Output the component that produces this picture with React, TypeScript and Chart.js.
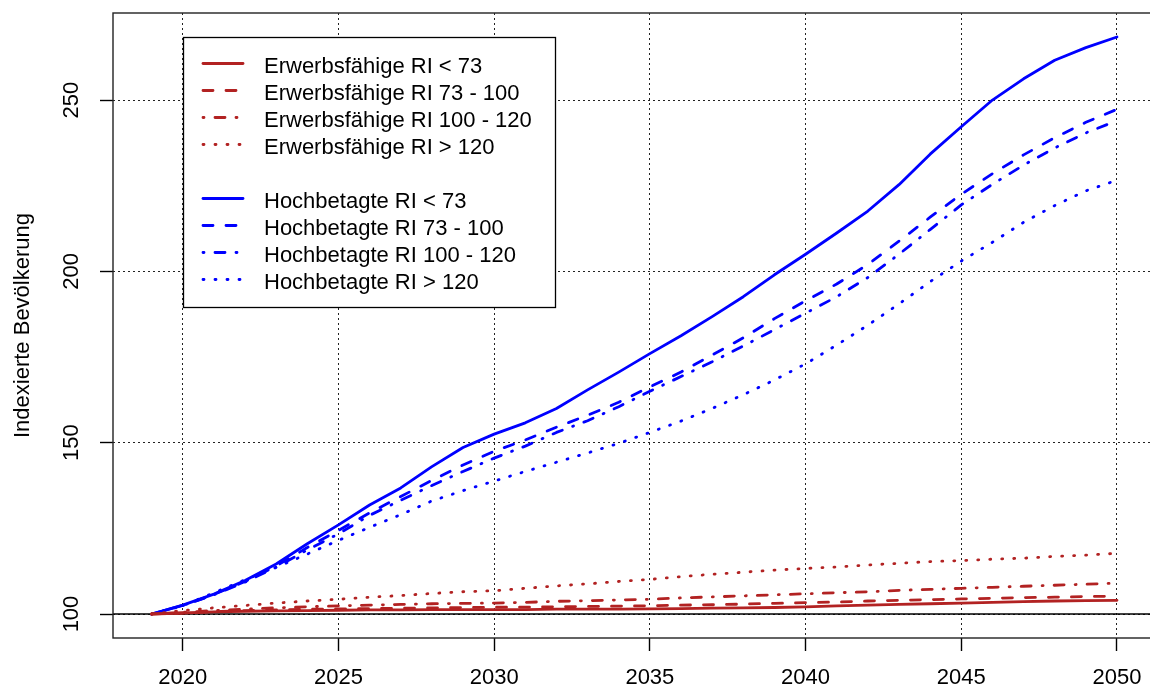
import React, { useEffect, useRef } from "react";
import { Chart, registerables } from "chart.js";

Chart.register(...registerables);

// ---------- data ----------
const years = [
  2019, 2020, 2021, 2022, 2023, 2024, 2025, 2026, 2027, 2028, 2029, 2030, 2031, 2032, 2033, 2034,
  2035, 2036, 2037, 2038, 2039, 2040, 2041, 2042, 2043, 2044, 2045, 2046, 2047, 2048, 2049, 2050,
];

const erwLt73 = [
  100, 100.3, 100.6, 100.8, 100.9, 101.0, 101.1, 101.2, 101.2, 101.3, 101.3, 101.3, 101.3, 101.4, 101.4, 101.4,
  101.5, 101.6, 101.7, 101.8, 101.9, 102.1, 102.4, 102.6, 102.8, 103.0, 103.2, 103.4, 103.6, 103.8, 103.9, 104.0,
];
const erw73to100 = [
  100, 100.3, 100.7, 101.0, 101.2, 101.4, 101.5, 101.6, 101.7, 101.8, 101.9, 102.0, 102.0, 102.1, 102.2, 102.3,
  102.4, 102.6, 102.7, 102.9, 103.1, 103.3, 103.5, 103.8, 104.0, 104.2, 104.4, 104.6, 104.8, 104.9, 105.1, 105.2,
];
const erw100to120 = [
  100, 100.5, 101.0, 101.4, 101.8, 102.1, 102.4, 102.6, 102.8, 103.0, 103.1, 103.2, 103.4, 103.7, 103.9, 104.1,
  104.3, 104.7, 105.0, 105.3, 105.6, 105.9, 106.2, 106.5, 106.9, 107.2, 107.5, 107.8, 108.1, 108.4, 108.7, 109.0,
];
const erwGt120 = [
  100, 101.0, 101.8, 102.5, 103.2, 103.8, 104.3, 104.9, 105.4, 106.0, 106.5, 106.8, 107.5, 108.2, 108.8, 109.5,
  110.1, 110.9, 111.6, 112.2, 112.8, 113.3, 113.7, 114.3, 114.8, 115.3, 115.6, 116.0, 116.3, 116.8, 117.2, 117.7,
];

const hochLt73 = [
  100, 102.6, 105.8, 109.8, 114.6, 120.5, 126.0, 131.8, 136.8, 143.0, 148.6, 152.5, 155.8, 160.0, 165.4, 170.6,
  176.0, 181.2, 186.8, 192.6, 199.0, 205.0, 211.2, 217.6, 225.3, 234.2, 242.2, 250.0, 256.2, 261.6, 265.3, 268.4,
];
const hoch73to100 = [
  100, 102.5, 105.7, 109.5, 114.0, 119.4, 124.4, 129.5, 134.3, 139.0, 143.5, 147.5, 150.8, 154.5, 158.0, 161.8,
  166.3, 170.6, 175.6, 180.6, 186.2, 191.4, 196.3, 202.0, 208.8, 215.8, 222.5, 228.5, 234.0, 239.0, 243.5, 247.3,
];
const hoch100to120 = [
  100, 102.5, 105.6, 109.3, 113.7, 118.7, 123.4, 128.8, 133.2, 137.5, 141.6, 145.5, 149.0, 153.0, 156.4, 160.5,
  165.0, 169.3, 173.6, 178.2, 183.0, 187.8, 192.6, 198.2, 205.0, 212.2, 219.4, 225.4, 231.0, 236.0, 240.4, 244.0,
];
const hochGt120 = [
  100, 102.4, 106.2, 110.0, 113.6, 117.5, 121.5, 125.3, 129.0, 133.0, 136.0, 138.8, 141.6, 144.3, 147.0, 149.8,
  153.0, 156.3, 160.0, 164.0, 168.3, 173.0, 178.5, 184.3, 190.5, 197.0, 203.0, 208.5, 214.3, 219.2, 223.5, 226.6,
];

const erwLabels = [
  "Erwerbsfähige RI < 73",
  "Erwerbsfähige RI 73 - 100",
  "Erwerbsfähige RI 100 - 120",
  "Erwerbsfähige RI > 120",
];
const hochLabels = [
  "Hochbetagte RI < 73",
  "Hochbetagte RI 73 - 100",
  "Hochbetagte RI 100 - 120",
  "Hochbetagte RI > 120",
];

const xTickValues = [2020, 2025, 2030, 2035, 2040, 2045, 2050];
const yTickValues = [100, 150, 200, 250];
const referenceLine = 100;
const yAxisTitle = "Indexierte Bevölkerung";

// ---------- style ----------
const RED = "#B22222";
const BLUE = "#0000FF";
const FONT = "'Liberation Sans', Arial, sans-serif";
const FONT_SIZE = 22;
const DASHES: number[][] = [[], [10, 13], [1, 11, 10, 11], [1, 11]];
const LINE_W = 2.8;
const CANVAS_W = 1180;
const CANVAS_H = 689;

function makeSeries(values: number[]) {
  return years.map((x, i) => ({ x, y: values[i] }));
}

const legendPlugin = {
  id: "rLegend",
  afterDraw(chart: any) {
    const ctx = chart.ctx;
    const left = 183.5;
    const top = 37.5;
    const right = 555.5;
    const bottom = 307.5;
    ctx.save();
    ctx.fillStyle = "#fff";
    ctx.fillRect(left, top, right - left, bottom - top);
    ctx.strokeStyle = "#000";
    ctx.lineWidth = 1.3;
    ctx.strokeRect(left, top, right - left, bottom - top);
    const ds = chart.data.datasets;
    const rows: (any | null)[] = [ds[0], ds[1], ds[2], ds[3], null, ds[4], ds[5], ds[6], ds[7]];
    rows.forEach((d, i) => {
      if (!d) return;
      const y = 63.5 + i * 27;
      ctx.beginPath();
      ctx.strokeStyle = d.borderColor;
      ctx.lineWidth = d.borderWidth;
      ctx.lineCap = "round";
      ctx.setLineDash(d.borderDash || []);
      ctx.moveTo(203, y);
      ctx.lineTo(243, y);
      ctx.stroke();
      ctx.setLineDash([]);
      ctx.fillStyle = "#000";
      ctx.font = `${FONT_SIZE}px ${FONT}`;
      ctx.textBaseline = "alphabetic";
      ctx.textAlign = "left";
      ctx.fillText(d.label, 264, y + 9);
    });
    ctx.restore();
  },
};

const framePlugin = {
  id: "rFrame",
  beforeDatasetsDraw(chart: any) {
    const ctx = chart.ctx;
    const { left, right } = chart.chartArea;
    const y = chart.scales.y.getPixelForValue(referenceLine);
    ctx.save();
    ctx.strokeStyle = "#000";
    ctx.lineWidth = 1.4;
    ctx.beginPath();
    ctx.moveTo(left, y);
    ctx.lineTo(right, y);
    ctx.stroke();
    ctx.restore();
  },
  afterDatasetsDraw(chart: any) {
    const ctx = chart.ctx;
    const { left, right, top, bottom } = chart.chartArea;
    ctx.save();
    ctx.strokeStyle = "#222";
    ctx.lineWidth = 1.4;
    ctx.strokeRect(left, top, right - left, bottom - top);
    ctx.restore();
  },
};

export default function App() {
  const canvasRef = useRef<HTMLCanvasElement | null>(null);

  useEffect(() => {
    if (!canvasRef.current) return;
    const mk = (label: string, values: number[], color: string, dash: number[]) => ({
      label,
      data: makeSeries(values),
      borderColor: color,
      backgroundColor: color,
      borderWidth: LINE_W,
      borderDash: dash,
      borderCapStyle: "round",
      borderJoinStyle: "round",
      pointRadius: 0,
      tension: 0,
      fill: false,
    });
    const datasets = [
      mk(erwLabels[0], erwLt73, RED, DASHES[0]),
      mk(erwLabels[1], erw73to100, RED, DASHES[1]),
      mk(erwLabels[2], erw100to120, RED, DASHES[2]),
      mk(erwLabels[3], erwGt120, RED, DASHES[3]),
      mk(hochLabels[0], hochLt73, BLUE, DASHES[0]),
      mk(hochLabels[1], hoch73to100, BLUE, DASHES[1]),
      mk(hochLabels[2], hoch100to120, BLUE, DASHES[2]),
      mk(hochLabels[3], hochGt120, BLUE, DASHES[3]),
    ];
    const tickFont = { family: FONT, size: FONT_SIZE };
    const chart = new Chart(canvasRef.current, {
      type: "line",
      data: { datasets: datasets as any },
      plugins: [framePlugin, legendPlugin],
      options: {
        animation: false,
        responsive: false,
        maintainAspectRatio: false,
        layout: { padding: { top: 13, right: CANVAS_W - 1155.6, left: 0, bottom: 0 } },
        plugins: { legend: { display: false }, tooltip: { enabled: false } },
        scales: {
          x: {
            type: "linear",
            min: 2017.76,
            max: 2051.24,
            afterBuildTicks: (s: any) => {
              s.ticks = xTickValues.map((v) => ({ value: v }));
            },
            afterFit: (s: any) => {
              s.height = 51;
              s.paddingLeft = 0;
              s.paddingRight = 0;
            },
            grid: {
              color: "#222",
              lineWidth: 1,
              tickLength: 13,
              tickColor: "#000",
              tickWidth: 1.4,
              tickBorderDash: [],
            } as any,
            border: { display: false, dash: [2, 3] },
            ticks: {
              font: tickFont,
              color: "#000",
              padding: 14,
              maxRotation: 0,
              minRotation: 0,
              autoSkip: false,
              callback: (v: any) => String(v),
            },
          },
          y: {
            type: "linear",
            min: 93.0,
            max: 275.4,
            afterBuildTicks: (s: any) => {
              s.ticks = yTickValues.map((v) => ({ value: v }));
            },
            afterFit: (s: any) => {
              s.width = 113;
              s.paddingTop = 0;
              s.paddingBottom = 0;
            },
            grid: {
              color: "#222",
              lineWidth: 1,
              tickLength: 13,
              tickColor: "#000",
              tickWidth: 1.4,
              tickBorderDash: [],
            } as any,
            border: { display: false, dash: [2, 3] },
            ticks: {
              font: tickFont,
              color: "#000",
              padding: 10,
              minRotation: 90,
              maxRotation: 90,
              crossAlign: "center",
              autoSkip: false,
              callback: (v: any) => String(v),
            },
            title: {
              display: true,
              text: yAxisTitle,
              font: tickFont,
              color: "#000",
              padding: { top: 10, bottom: 0 },
            },
          },
        },
      } as any,
    });
    return () => chart.destroy();
  }, []);

  return (
    <div
      style={{
        position: "fixed",
        left: 0,
        top: 0,
        width: 1150,
        height: 689,
        overflow: "hidden",
        background: "#fff",
      }}
    >
      <canvas
        ref={canvasRef}
        width={CANVAS_W}
        height={CANVAS_H}
        style={{ display: "block", width: CANVAS_W, height: CANVAS_H }}
      />
    </div>
  );
}
